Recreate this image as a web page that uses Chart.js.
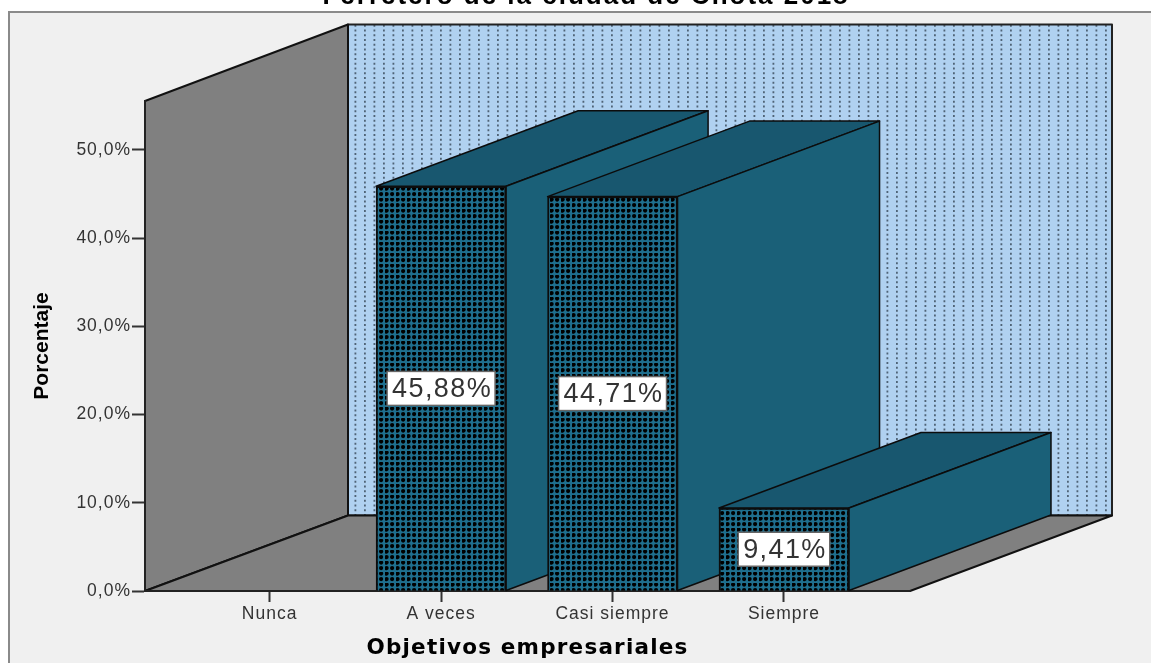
<!DOCTYPE html>
<html>
<head>
<meta charset="utf-8">
<title>Objetivos empresariales</title>
<script src="https://cdn.jsdelivr.net/npm/chart.js@4"></script>
<style>
  html, body { margin: 0; background: #fff; }
  canvas { display: block; filter: blur(0.55px); }
</style>
</head>
<body>
<canvas id="myChart" width="1151" height="663"></canvas>
<script>
var chartTitle = "Ferretero de la ciudad de Chota 2018";
var xTitle = "Objetivos empresariales";
var yTitle = "Porcentaje";
var categories = ["Nunca", "A veces", "Casi siempre", "Siempre"];
var values = [0, 45.88, 44.71, 9.41];
var yTicks = [0, 10, 20, 30, 40, 50];

// depth of the fake 3d box, in pixels
var depthX = 202;
var depthY = 75.5;

function poly(ctx, pts, fill, stroke, width) {
    ctx.beginPath();
    ctx.moveTo(pts[0][0], pts[0][1]);
    for (var i = 1; i < pts.length; i++) ctx.lineTo(pts[i][0], pts[i][1]);
    ctx.closePath();
    ctx.fillStyle = fill;
    ctx.fill();
    ctx.strokeStyle = stroke;
    ctx.lineWidth = width;
    ctx.lineJoin = 'round';
    ctx.stroke();
}

function wallPattern(ctx) {
    var c = document.createElement('canvas');
    c.width = 19; c.height = 19;
    var p = c.getContext('2d');
    p.fillStyle = '#b0d1f0';
    p.fillRect(0, 0, 19, 19);
    p.fillStyle = '#4f6376';
    [3, 12.5].forEach(function (x) {
        [1, 5.75, 10.5, 15.25].forEach(function (y) {
            p.fillRect(x, y, 1.8, 2);
        });
    });
    return ctx.createPattern(c, 'repeat');
}

function barPattern(ctx) {
    var c = document.createElement('canvas');
    c.width = 11; c.height = 11;
    var p = c.getContext('2d');
    p.fillStyle = '#1f6f8e';
    p.fillRect(0, 0, 11, 11);
    p.fillStyle = '#000';
    [1.6, 7.1].forEach(function (x) {
        [1.6, 7.1].forEach(function (y) {
            p.beginPath();
            p.arc(x, y, 2.1, 0, Math.PI * 2);
            p.fill();
        });
    });
    return ctx.createPattern(c, 'repeat');
}

// the reference text is stretched sideways, chart.js has no option for that
function spaced(scale, method, px) {
    var orig = scale[method];
    scale[method] = function () {
        scale.ctx.letterSpacing = px;
        orig.apply(scale, arguments);
        scale.ctx.letterSpacing = '0px';
    };
}

var box3d = {
    id: 'box3d',
    afterLayout: function (chart) {
        spaced(chart.scales.x, 'drawLabels', '1px');
        spaced(chart.scales.y, 'drawLabels', '1px');
        spaced(chart.scales.x, 'drawTitle', '1.2px');
    },
    beforeDraw: function (chart) {
        var ctx = chart.ctx, a = chart.chartArea;
        ctx.save();
        ctx.fillStyle = '#fff';
        ctx.fillRect(0, 0, chart.width, chart.height);
        ctx.fillStyle = '#f0f0f0';
        ctx.fillRect(9, 12, chart.width, chart.height);
        ctx.strokeStyle = '#8a8a8a';
        ctx.lineWidth = 2;
        ctx.beginPath();
        ctx.moveTo(9, chart.height);
        ctx.lineTo(9, 12);
        ctx.lineTo(chart.width, 12);
        ctx.stroke();

        ctx.font = 'bold 26px "Liberation Sans"';
        ctx.fillStyle = '#000';
        ctx.textAlign = 'center';
        ctx.textBaseline = 'alphabetic';
        ctx.letterSpacing = '2px';
        ctx.fillText(chartTitle, 586, 4);
        ctx.letterSpacing = '0px';

        var l = a.left, r = a.right, t = a.top, b = a.bottom;
        poly(ctx, [[l + 203, t - depthY - 1], [r + depthX, t - depthY - 1], [r + depthX, b - depthY], [l + 203, b - depthY]], wallPattern(ctx), '#222', 2);
        poly(ctx, [[l, t], [l + 203, t - depthY - 1], [l + 203, b - depthY], [l, b]], '#808080', '#111', 2);
        poly(ctx, [[l, b], [l + 203, b - depthY], [r + depthX, b - depthY], [r, b]], '#808080', '#111', 2);
        ctx.restore();
    },
    beforeDatasetsDraw: function (chart) {
        var ctx = chart.ctx;
        var bars = chart.getDatasetMeta(0).data;
        ctx.save();
        bars.forEach(function (bar, i) {
            if (!values[i]) return;
            var l = bar.x - bar.width / 2, r = bar.x + bar.width / 2;
            var t = bar.y, b = bar.base;
            poly(ctx, [[l, t], [l + depthX, t - depthY], [r + depthX, t - depthY], [r, t]], '#18576f', '#0c0c0c', 1.5);
            poly(ctx, [[r, t], [r + depthX, t - depthY], [r + depthX, b - depthY], [r, b]], '#1a6078', '#0c0c0c', 1.5);
        });
        ctx.restore();
    },
    afterDatasetsDraw: function (chart) {
        var ctx = chart.ctx;
        var bars = chart.getDatasetMeta(0).data;
        ctx.save();
        ctx.font = '27px "Liberation Sans"';
        ctx.letterSpacing = '1.4px';
        ctx.textAlign = 'center';
        ctx.textBaseline = 'middle';
        bars.forEach(function (bar, i) {
            if (!values[i]) return;
            var txt = values[i].toFixed(2).replace('.', ',') + '%';
            var w = ctx.measureText(txt).width + 8;
            var my = (bar.y + bar.base) / 2;
            ctx.fillStyle = '#fff';
            ctx.strokeStyle = '#666';
            ctx.lineWidth = 1.5;
            ctx.fillRect(bar.x - w / 2, my - 17, w, 34);
            ctx.strokeRect(bar.x - w / 2, my - 17, w, 34);
            ctx.fillStyle = '#333';
            ctx.fillText(txt, bar.x + 1, my + 1);
        });
        ctx.restore();
    }
};

var ctx = document.getElementById("myChart").getContext('2d');
var myChart = new Chart(ctx, {
    type: 'bar',
    data: {
        datasets: [{
            data: categories.map(function (c, i) { return { x: i, y: values[i] }; }),
            backgroundColor: barPattern(ctx),
            borderColor: '#0c0c0c',
            borderWidth: 2,
            barThickness: 130
        }]
    },
    plugins: [box3d],
    options: {
        responsive: false,
        animation: false,
        layout: { padding: { left: 20, top: 101, right: 241, bottom: 0 } },
        plugins: { legend: { display: false }, tooltip: { enabled: false } },
        scales: {
            x: {
                type: 'linear',
                offset: false,
                min: -0.727,
                max: 3.735,
                afterBuildTicks: function (scale) {
                    scale.ticks = categories.map(function (c, i) { return { value: i }; });
                },
                afterFit: function (scale) { scale.height = 72; },
                grid: { offset: false, drawOnChartArea: false, tickLength: 11, tickColor: '#333', tickWidth: 2 },
                border: { color: '#222', width: 2 },
                ticks: {
                    autoSkip: false,
                    maxRotation: 0,
                    padding: 2,
                    color: '#333',
                    font: { family: '"Liberation Sans"', size: 17.5 },
                    callback: function (v) { return categories[v]; }
                },
                title: {
                    display: true,
                    text: xTitle,
                    color: '#000',
                    font: { family: '"DejaVu Sans"', size: 21.5, weight: 'bold' },
                    padding: { top: 0, bottom: 2 }
                }
            },
            y: {
                min: 0,
                max: 55.55,
                afterBuildTicks: function (scale) {
                    scale.ticks = yTicks.map(function (v) { return { value: v }; });
                },
                afterFit: function (scale) { scale.width = 125; },
                grid: { drawOnChartArea: false, tickLength: 13, tickColor: '#333', tickWidth: 2 },
                border: { color: '#222', width: 2 },
                ticks: {
                    padding: 1,
                    color: '#333',
                    font: { family: '"Liberation Sans"', size: 17.5 },
                    callback: function (v) { return v.toFixed(1).replace('.', ',') + '%'; }
                },
                title: {
                    display: true,
                    text: yTitle,
                    color: '#000',
                    font: { family: '"Liberation Sans"', size: 21, weight: 'bold' },
                    padding: { top: 10, bottom: 0 }
                }
            }
        }
    }
});
</script>
</body>
</html>
